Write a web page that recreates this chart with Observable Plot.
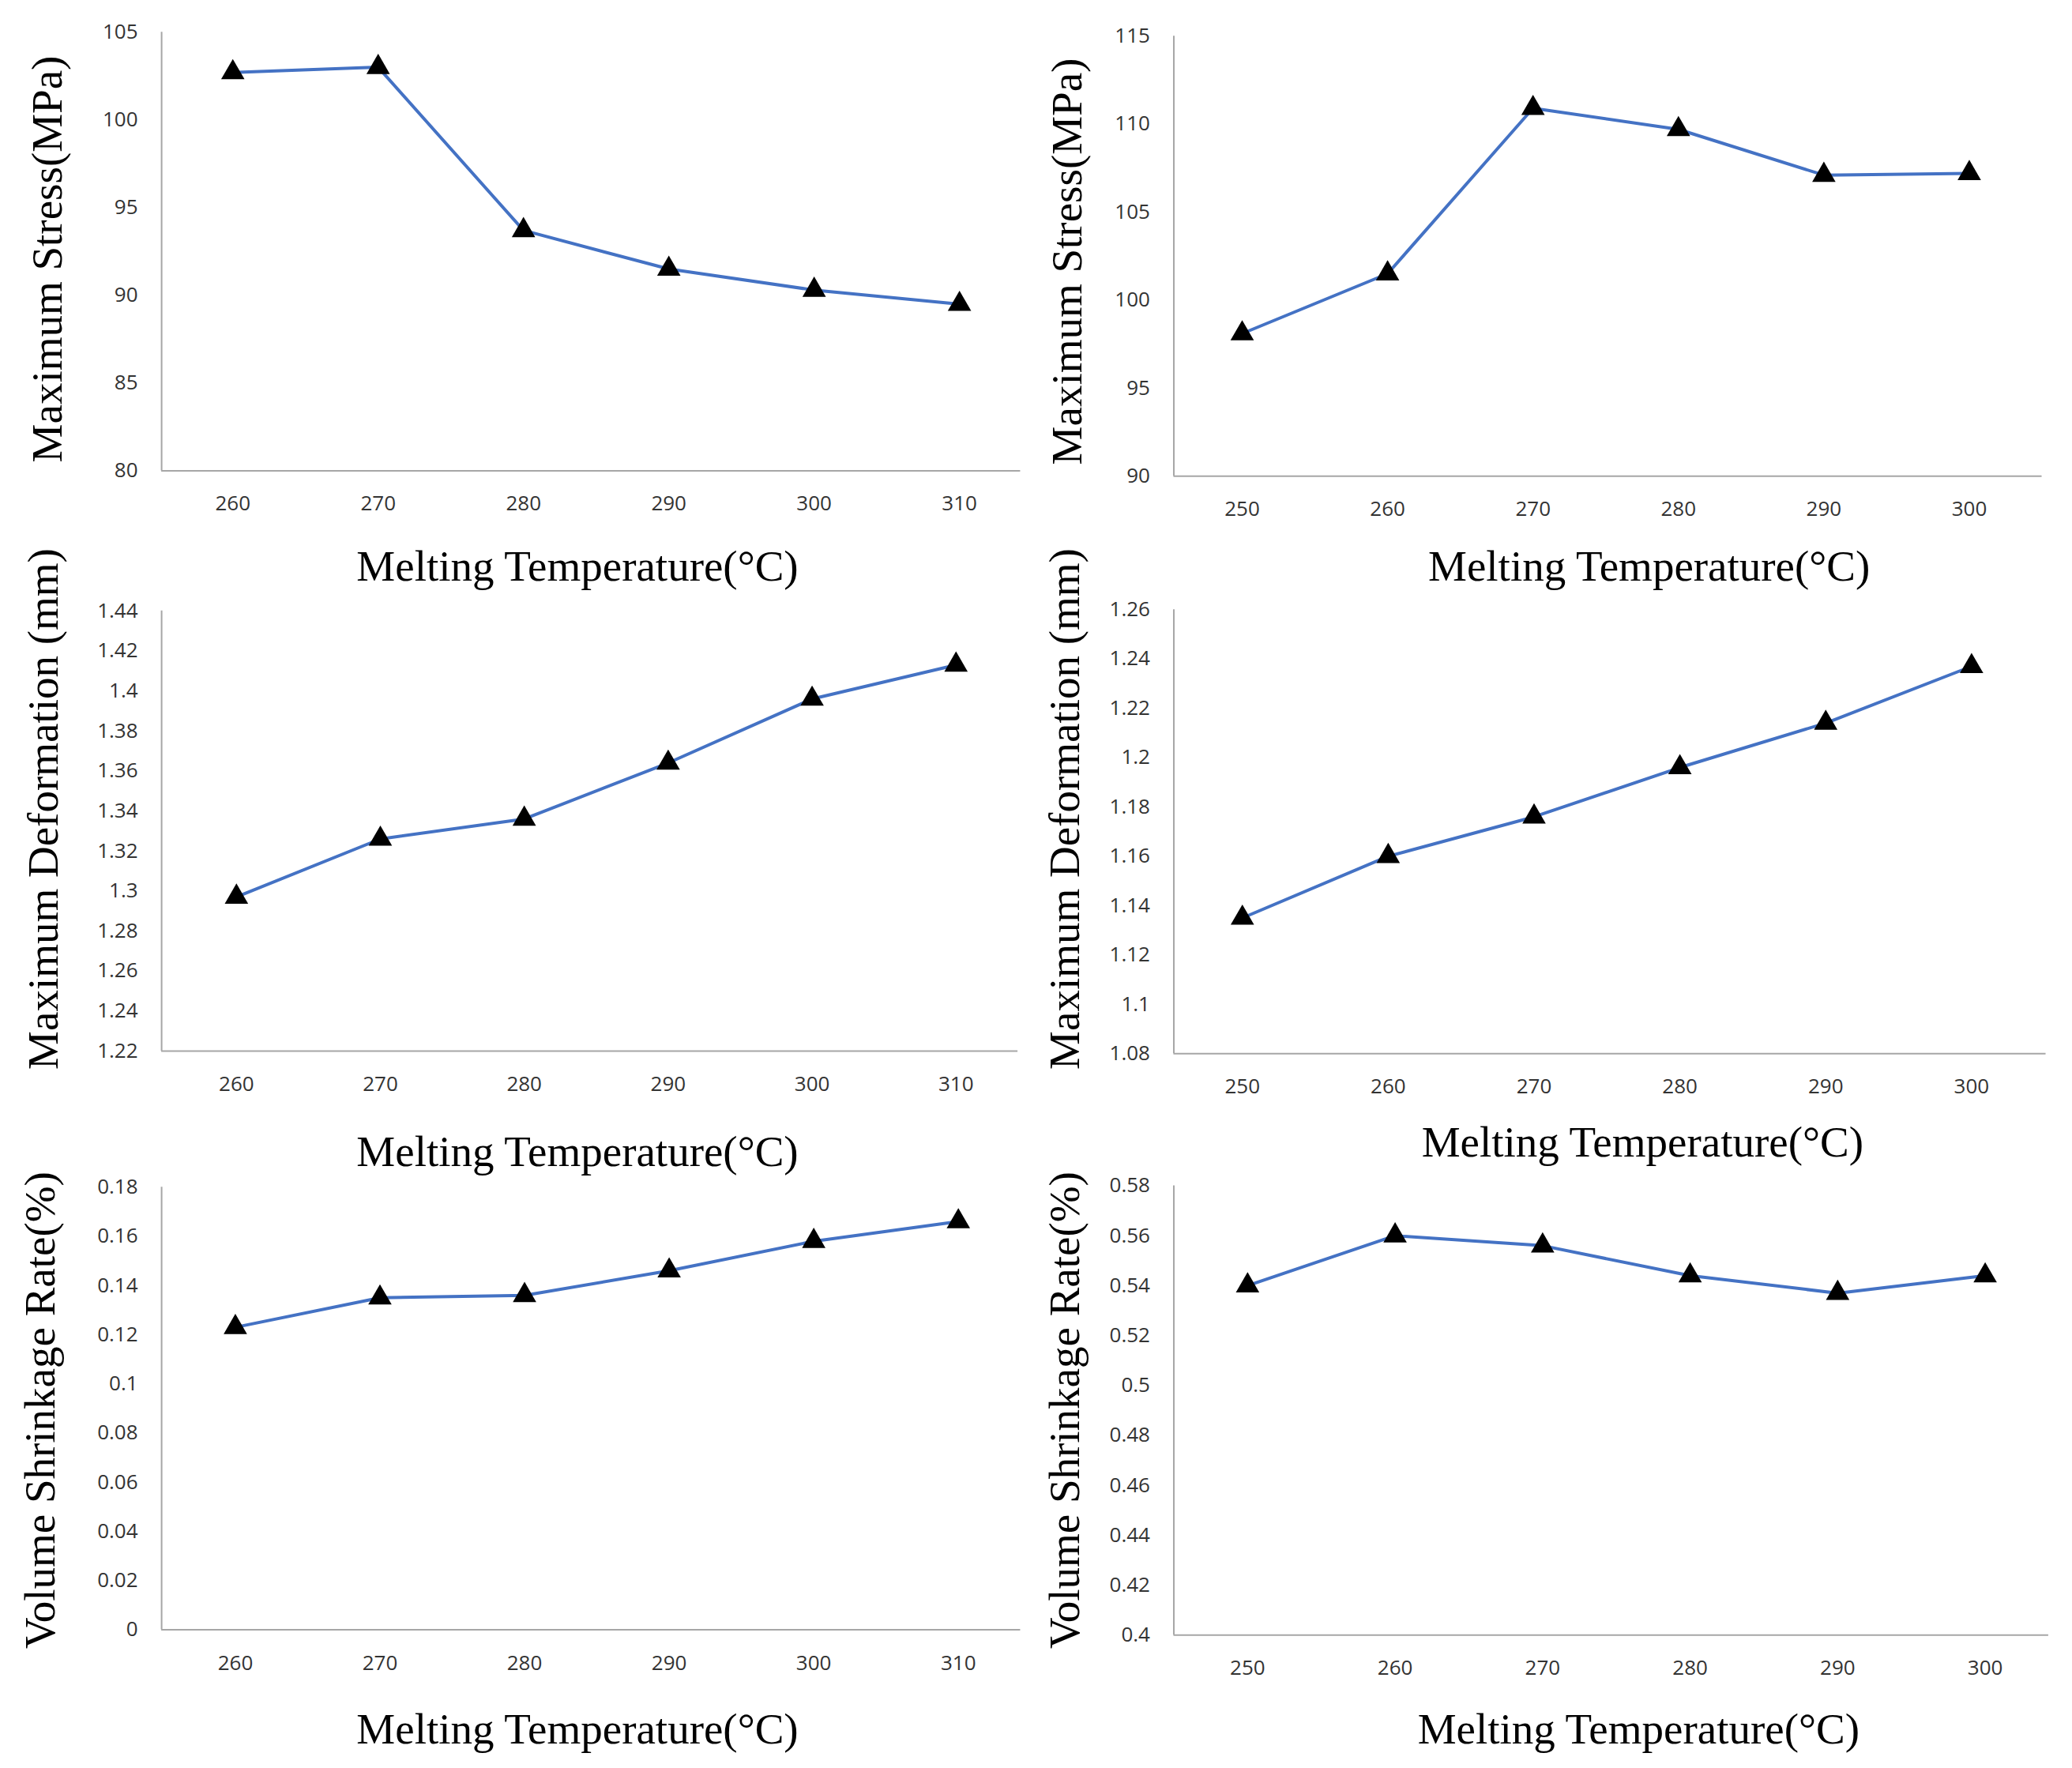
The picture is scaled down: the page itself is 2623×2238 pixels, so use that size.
<!DOCTYPE html>
<html><head><meta charset="utf-8">
<script src="https://cdn.jsdelivr.net/npm/d3@7"></script>
<script src="https://cdn.jsdelivr.net/npm/@observablehq/plot@0.6"></script>
<style>
body{margin:0;background:#fff;width:2623px;height:2238px;position:relative;overflow:hidden}
.p{position:absolute;left:0;top:0}
.lab{position:absolute;font-family:"Liberation Serif","DejaVu Serif",serif;font-size:55px;color:#000;white-space:nowrap;transform:translate(-50%,-50%)}
.rot{transform:translate(-50%,-50%) rotate(-90deg)}
</style></head><body>
<script>
const tempsA = [260,270,280,290,300,310];
const tempsB = [250,260,270,280,290,300];
const stressA = [102.7,103.0,93.7,91.5,90.3,89.5];
const stressB = [98.1,101.5,110.9,109.7,107.1,107.2];
const deformA = [1.297,1.326,1.336,1.364,1.396,1.413];
const deformB = [1.135,1.160,1.176,1.196,1.214,1.237];
const shrinkA = [0.123,0.135,0.136,0.146,0.158,0.166];
const shrinkB = [0.540,0.560,0.556,0.544,0.537,0.544];
const ticksStressA = [80,85,90,95,100,105];
const ticksStressB = [90,95,100,105,110,115];
const ticksDefA = [1.22,1.24,1.26,1.28,1.3,1.32,1.34,1.36,1.38,1.4,1.42,1.44];
const ticksDefB = [1.08,1.1,1.12,1.14,1.16,1.18,1.2,1.22,1.24,1.26];
const ticksShrA = [0,0.02,0.04,0.06,0.08,0.1,0.12,0.14,0.16,0.18];
const ticksShrB = [0.4,0.42,0.44,0.46,0.48,0.5,0.52,0.54,0.56,0.58];
const yTitleStress = "Maximum Stress(MPa)";
const yTitleDef = "Maximum Deformation (mm)";
const yTitleShr = "Volume Shrinkage Rate(%)";
const xTitle = "Melting Temperature(°C)";

const S = 2623/1568, W = 2623, H = 2238;
const panels = [
 {x:tempsA,y:stressA,yt:ticksStressA,b:[122,772,24,356],xd:[255.1,314.2],yl:yTitleStress,ylp:[35,196],xlp:[437,428]},
 {x:tempsB,y:stressB,yt:ticksStressB,b:[888,1545,27,360],xd:[245.3,305],yl:yTitleStress,ylp:[807,198],xlp:[1248,428]},
 {x:tempsA,y:deformA,yt:ticksDefA,b:[122,770,462,795],xd:[254.8,314.3],yl:yTitleDef,ylp:[32,612],xlp:[437,871]},
 {x:tempsB,y:deformB,yt:ticksDefB,b:[888,1548,461,797],xd:[245.3,305.1],yl:yTitleDef,ylp:[805,612],xlp:[1243,864]},
 {x:tempsA,y:shrinkA,yt:ticksShrA,b:[122,772,898,1233],xd:[254.9,314.3],yl:yTitleShr,ylp:[30,1067],xlp:[437,1308]},
 {x:tempsB,y:shrinkB,yt:ticksShrB,b:[888,1550,897,1237],xd:[245,304.3],yl:yTitleShr,ylp:[805,1067],xlp:[1240,1308]}
];
const fmt = d => String(+d.toFixed(4));
for (const p of panels) {
  const [L,R,T,B] = p.b.map(v=>v*S);
  const data = p.x.map((t,i)=>({t, v:p.y[i]}));
  const yd = [p.yt[0], p.yt[p.yt.length-1]];
  const svg = Plot.plot({
    width:W, height:H, marginLeft:L, marginRight:W-R, marginTop:T, marginBottom:H-B,
    style:{fontFamily:"'Open Sans','Liberation Sans',sans-serif", fontSize:"26px", background:"transparent", color:"#333"},
    x:{domain:p.xd},
    y:{domain:yd},
    marks:[
      Plot.axisX({ticks:p.x, tickFormat:d=>String(d), tickSize:0, tickPadding:32, label:null, fontSize:26}),
      Plot.axisY({ticks:p.yt, tickFormat:fmt, tickSize:0, tickPadding:30, label:null, fontSize:26}),
      Plot.ruleX([p.xd[0]], {stroke:"#a6a6a6", strokeWidth:2}),
      Plot.ruleY([yd[0]], {stroke:"#a6a6a6", strokeWidth:2}),
      Plot.line(data, {x:"t", y:"v", stroke:"#4472C4", strokeWidth:4}),
      Plot.dot(data, {x:"t", y:"v", symbol:"triangle", r:11, fill:"#000", stroke:"none"})
    ]
  });
  svg.classList.add("p");
  document.body.appendChild(svg);
  const yl = document.createElement("div");
  yl.className = "lab rot"; yl.textContent = p.yl;
  yl.style.left = p.ylp[0]*S+"px"; yl.style.top = p.ylp[1]*S+"px";
  document.body.appendChild(yl);
  const xl = document.createElement("div");
  xl.className = "lab"; xl.textContent = xTitle;
  xl.style.left = p.xlp[0]*S+"px"; xl.style.top = p.xlp[1]*S+"px";
  document.body.appendChild(xl);
}
</script>
</body></html>
